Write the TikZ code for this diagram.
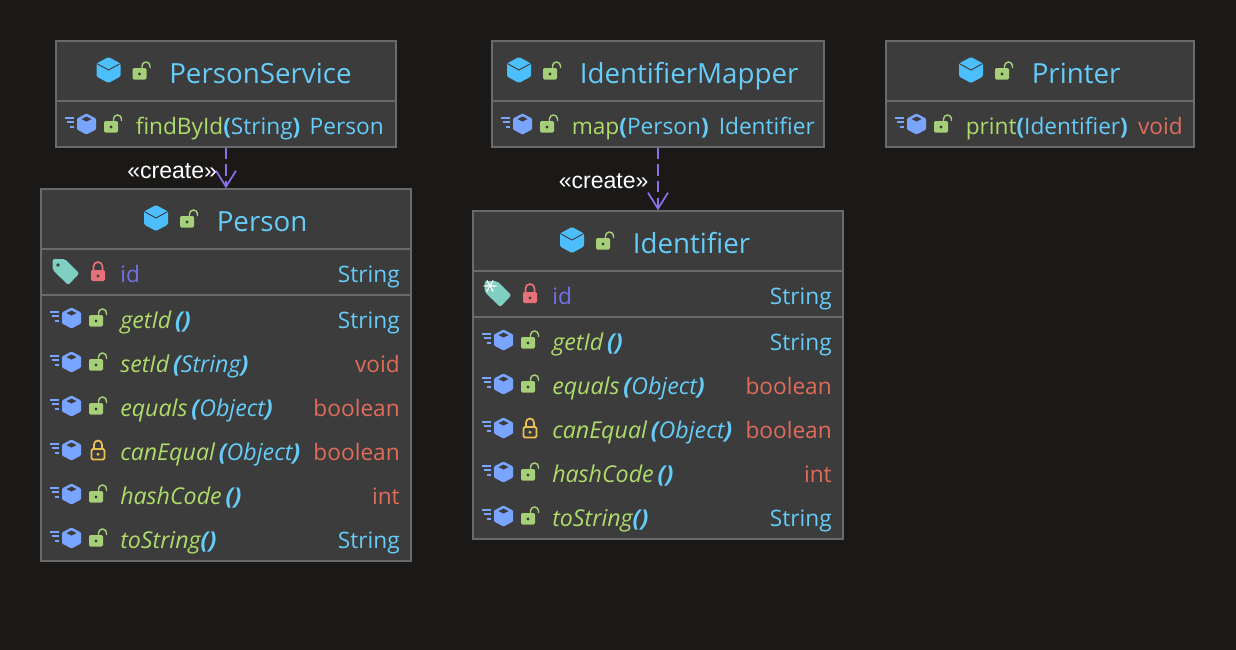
\documentclass[tikz,border=0pt]{standalone}
\usepackage{fontspec}
\setmainfont{Open Sans}
\newfontfamily\labelfont{Liberation Sans}
\usetikzlibrary{arrows.meta}

\definecolor{bgdark}{HTML}{1A1918}
\definecolor{panelgray}{HTML}{3C3C3C}
\definecolor{linegray}{HTML}{6A6A6A}
\definecolor{cubeblue}{HTML}{4DBEFC}
\definecolor{methodblue}{HTML}{7AA5FF}
\definecolor{lockgreen}{HTML}{A5CF78}
\definecolor{lockred}{HTML}{E87078}
\definecolor{lockyellow}{HTML}{EBC152}
\definecolor{tagteal}{HTML}{7FCFC2}
\definecolor{titleblue}{HTML}{66CCF8}
\definecolor{methodgreen}{HTML}{AEDC6A}
\definecolor{voidred}{HTML}{E06C5A}
\definecolor{fieldpurple}{HTML}{7272E8}
\definecolor{arrowpurple}{HTML}{8B70E8}

\newcommand{\args}[1]{{\color{titleblue}\bfseries(\mdseries #1\bfseries)}}

\tikzset{
    classbox/.style 2 args={draw=linegray, line width=1pt, fill=panelgray,
        minimum width=#1*0.75pt, minimum height=#2*0.75pt, inner sep=0pt},
    divider/.style={draw=linegray, line width=1.3pt},
    titletext/.style={anchor=base west, inner sep=0pt, text=titleblue, font=\fontsize{20.8}{24}\selectfont},
    membertext/.style={anchor=base west, inner sep=0pt, font=\fontsize{17}{20}\selectfont},
    italictext/.style={anchor=base west, inner sep=0pt, font=\fontsize{17.4}{20}\selectfont\itshape},
    typetext/.style={anchor=base east, inner sep=0pt, font=\fontsize{17}{20}\selectfont},
    createtext/.style={anchor=base west, inner sep=0pt, text=white, font=\labelfont\fontsize{17.3}{20}\selectfont},
    createarrow/.style={draw=arrowpurple, line width=1.5pt, dash pattern=on 8.5pt off 4pt,
        -{Straight Barb[length=12pt, width=15pt, line width=1.3pt]}},
    pics/bigcube/.style={code={
        \fill[cubeblue, rounded corners=1pt] (0,-13)--(12,-6.5)--(12,6.5)--(0,13)--(-12,6.5)--(-12,-6.5)--cycle;
        \draw[panelgray, line width=0.7pt] (-11,-6)--(0,0)--(11,-6);
    }},
    pics/methodcube/.style={code={
        \fill[methodblue, rounded corners=0.7pt] (0,-10.5)--(9.5,-5.5)--(9.5,5.5)--(0,10.5)--(-9.5,5.5)--(-9.5,-5.5)--cycle;
        \fill[panelgray] (-5,-5)--(0,-7.5)--(5,-5)--(0,-2.5)--cycle;
        \draw[methodblue, line width=1.2pt] (-21.5,-6)--(-12.5,-6) (-19.5,-2)--(-12.5,-2) (-17,3)--(-12.5,3);
    }},
    pics/lockopen/.style={code={
        \fill[lockgreen, rounded corners=1pt] (-7,-5) rectangle (7,6.5);
        \fill[panelgray] (0,1) circle (1.7);
        \draw[lockgreen, line width=1.1pt] (2.5,-5)--(2.5,-7) arc (180:360:4) --(10.5,-5);
    }},
    pics/lockred/.style={code={
        \fill[lockred, rounded corners=1pt] (-7,-4) rectangle (7,7);
        \fill[panelgray] (0,2) circle (1.7);
        \draw[lockred, line width=1.3pt] (-4.5,-4)--(-4.5,-7.5) arc (180:360:4.5) --(4.5,-4);
    }},
    pics/lockprot/.style={code={
        \draw[lockyellow, line width=1.3pt, rounded corners=1pt] (-4.5,-3) rectangle (8.5,7.5);
        \fill[lockyellow] (2,2.2) circle (1.7);
        \draw[lockyellow, line width=1.3pt] (-2,-3)--(-2,-7.5) arc (180:360:4) --(6,-3);
    }},
    pics/tagicon/.style={code={
        \fill[tagteal, rounded corners=1.5pt] (-12.3,-13)--(0,-13)--(14.3,1.3)--(3.3,13)--(-12.3,-2)--cycle;
        \fill[panelgray] (-7,-7) circle (1.8);
    }},
    pics/snowflake/.style={code={
        \draw[white, line width=0.9pt] (-6.5,0)--(6.5,0) (-3.2,-5.6)--(3.2,5.6) (-3.2,5.6)--(3.2,-5.6);
    }}
}

\begin{document}
\begin{tikzpicture}[x=0.75pt, y=-0.75pt]
    \fill[bgdark] (0,0) rectangle (1236,650);
    \useasboundingbox (0,0) rectangle (1236,650);

    % class boxes
    \node[classbox={340}{106}] (service) at (226,94) {};
    \node[classbox={332}{106}] (mapper) at (658,94) {};
    \node[classbox={308}{106}] (printer) at (1040,94) {};
    \node[classbox={370}{372}] (person) at (226,375) {};
    \node[classbox={370}{328}] (identifier) at (658,375) {};

    % dividers
    \foreach \b in {service,mapper,printer}
        {\draw[divider] (\b.west |- 0,101) -- (\b.east |- 0,101);}
    \foreach \v in {249,295}
        {\draw[divider] (person.west |- 0,\v) -- (person.east |- 0,\v);}
    \foreach \v in {271,317}
        {\draw[divider] (identifier.west |- 0,\v) -- (identifier.east |- 0,\v);}

    % titles
    \foreach \n/\t/\x/\y in {service/PersonService/108.5/70, mapper/IdentifierMapper/519/70,
            printer/Printer/971/70, person/Person/156/218, identifier/Identifier/572/240}
        {\pic at (\x,\y) {bigcube};
         \pic at ({\x+31},{\y+3}) {lockopen};
         \node[titletext] (\n-title) at ({\x+60.5},{\y+13}) {\t};}

    % one method classes
    \foreach \n/\x/\m/\a/\t/\c/\e in {service/86.5/findById/String/Person/titleblue/384,
            mapper/522.5/map/Person/Identifier/titleblue/815,
            printer/916.5/print/Identifier/void/voidred/1183}
        {\pic at (\x,124) {methodcube};
         \pic at ({\x+24.5},126) {lockopen};
         \node[membertext, text=methodgreen] (\n-method) at ({\x+49},134) {\m\args{\a}};
         \node[typetext, text=\c] (\n-type) at (\e,134) {\t};}

    % fields
    \pic at (65,272) {tagicon};
    \pic at (98,274) {lockred};
    \node[membertext, text=fieldpurple] (person-id) at (120,282) {id};
    \node[typetext, text=titleblue] (person-id-type) at (400,282) {String};
    \pic at (497,294) {tagicon};
    \pic at (490,286) {snowflake};
    \pic at (530,296) {lockred};
    \node[membertext, text=fieldpurple] (identifier-id) at (552,304) {id};
    \node[typetext, text=titleblue] (identifier-id-type) at (832,304) {String};

    % methods of Person
    \foreach \y/\m/\a/\t/\c/\k in {320/getId/{\,\args{}}/String/titleblue/lockopen,
            364/setId/{\,\args{String}}/void/voidred/lockopen,
            408/equals/{\,\args{Object}}/boolean/voidred/lockopen,
            452/canEqual/{\,\args{Object}}/boolean/voidred/lockprot,
            496/hashCode/{\,\args{}}/int/voidred/lockopen,
            540/toString/{\args{}}/String/titleblue/lockopen}
        {\pic at (71.5,\y-2) {methodcube};
         \pic at (96,\y) {\k};
         \node[italictext, text=methodgreen] (person-\m) at (120,\y+8) {\m\a};
         \node[typetext, text=\c] (person-\m-type) at (400,\y+8) {\t};}

    % methods of Identifier
    \foreach \y/\m/\a/\t/\c/\k in {342/getId/{\,\args{}}/String/titleblue/lockopen,
            386/equals/{\,\args{Object}}/boolean/voidred/lockopen,
            430/canEqual/{\,\args{Object}}/boolean/voidred/lockprot,
            474/hashCode/{\,\args{}}/int/voidred/lockopen,
            518/toString/{\args{}}/String/titleblue/lockopen}
        {\pic at (503.5,\y-2) {methodcube};
         \pic at (528,\y) {\k};
         \node[italictext, text=methodgreen] (identifier-\m) at (552,\y+8) {\m\a};
         \node[typetext, text=\c] (identifier-\m-type) at (832,\y+8) {\t};}

    % create dependencies
    \draw[createarrow] (service) -- (person);
    \node[createtext] (create-person) at (127,178) {«create»};
    \draw[createarrow] (mapper) -- (identifier);
    \node[createtext] (create-identifier) at (558.5,188) {«create»};
\end{tikzpicture}
\end{document}
